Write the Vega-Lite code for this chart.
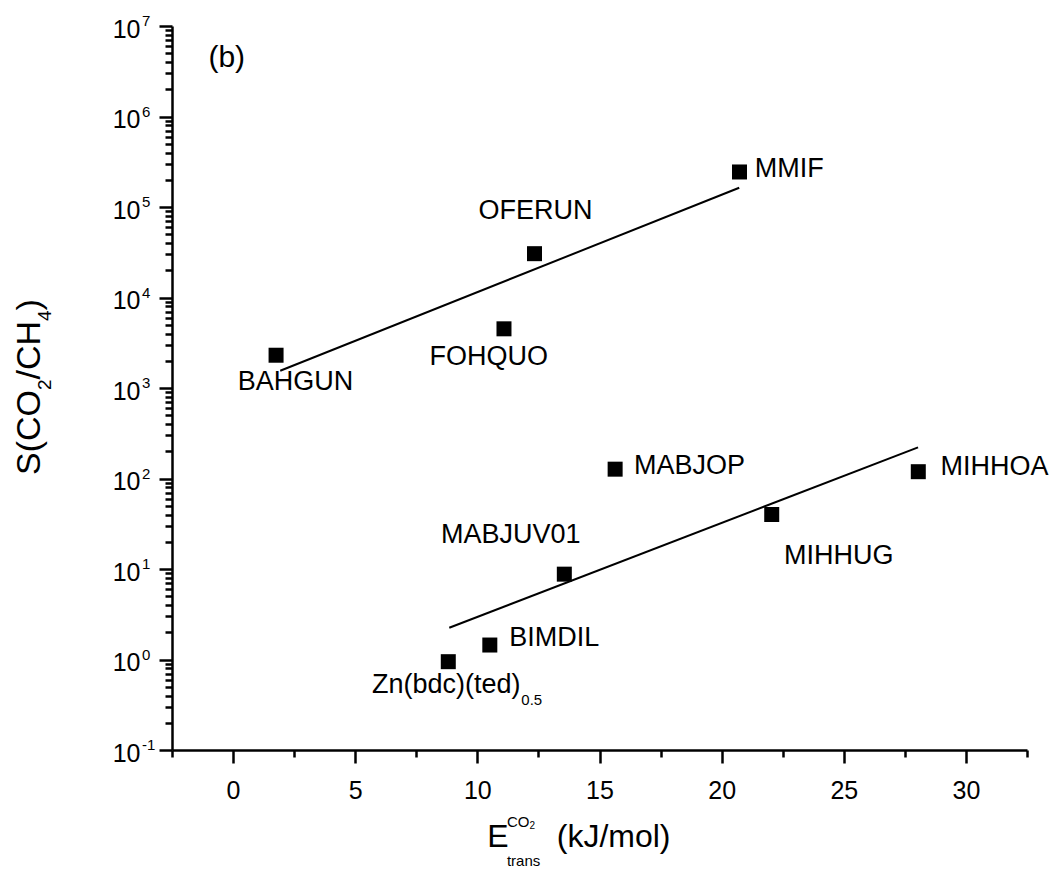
{
  "$schema": "https://vega.github.io/schema/vega-lite/v6.json",
  "width": 855,
  "height": 724,
  "autosize": {"type": "none"},
  "padding": {"left": 172, "top": 26, "right": 26, "bottom": 123},
  "background": "white",
  "config": {"view": {"stroke": null}, "font": "Liberation Sans"},
  "datasets": {
    "fits": [
      {"fit": "upper", "x": 1.93, "y": 1553},
      {"fit": "upper", "x": 20.72, "y": 163300},
      {"fit": "lower", "x": 8.85, "y": 2.24},
      {"fit": "lower", "x": 28.04, "y": 221}
    ],
    "points": [
      {"name": "BAHGUN", "x": 1.76, "y": 2302},
      {"name": "FOHQUO", "x": 11.09, "y": 4508},
      {"name": "OFERUN", "x": 12.34, "y": 30500},
      {"name": "MMIF", "x": 20.73, "y": 243800},
      {"name": "Zn(bdc)(ted)0.5", "x": 8.81, "y": 0.946},
      {"name": "BIMDIL", "x": 10.51, "y": 1.445},
      {"name": "MABJUV01", "x": 13.56, "y": 8.77},
      {"name": "MABJOP", "x": 15.64, "y": 126.8},
      {"name": "MIHHUG", "x": 22.05, "y": 40.0},
      {"name": "MIHHOA", "x": 28.05, "y": 118.9}
    ],
    "labels": [
      {"t": "MMIF", "lx": 21.36, "ly": 216200},
      {"t": "OFERUN", "lx": 10.045, "ly": 73700},
      {"t": "FOHQUO", "lx": 8.04, "ly": 1795},
      {"t": "BAHGUN", "lx": 0.188, "ly": 950},
      {"t": "MABJOP", "lx": 16.41, "ly": 112.1},
      {"t": "MABJUV01", "lx": 8.507, "ly": 19.23},
      {"t": "BIMDIL", "lx": 11.31, "ly": 1.41},
      {"t": "Zn(bdc)(ted)", "lx": 5.685, "ly": 0.423},
      {"t": "MIHHUG", "lx": 22.55, "ly": 11.36},
      {"t": "MIHHOA", "lx": 28.96, "ly": 109.3}
    ],
    "small": [
      {"t": "0.5", "lx": 11.8, "ly": 0.3144},
      {"t": "CO", "lx": 11.21, "ly": 0.01421},
      {"t": "trans", "lx": 11.21, "ly": 0.005224}
    ],
    "tiny": [
      {"t": "2", "lx": 12.13, "ly": 0.0133}
    ],
    "xtitle": [
      {"t": "E", "lx": 10.4, "ly": 0.00854},
      {"t": "(kJ/mol)", "lx": 13.25, "ly": 0.00854}
    ],
    "panel": [
      {"t": "(b)", "lx": -1.01, "ly": 3524000}
    ],
    "ytitle": [
      {"t": "S(CO", "lx": -7.91, "ly": 109.3},
      {"t": "/CH", "lx": -7.91, "ly": 1241},
      {"t": ")", "lx": -7.91, "ly": 7185}
    ],
    "ytitlesub": [
      {"t": "2", "lx": -7.47, "ly": 950.4},
      {"t": "4", "lx": -7.47, "ly": 5500}
    ],
    "exps": [
      {"v": 10000000, "e": "7"},
      {"v": 1000000, "e": "6"},
      {"v": 100000, "e": "5"},
      {"v": 10000, "e": "4"},
      {"v": 1000, "e": "3"},
      {"v": 100, "e": "2"},
      {"v": 10, "e": "1"},
      {"v": 1, "e": "0"},
      {"v": 0.1, "e": "-1"}
    ]
  },
  "layer": [
    {
      "data": {"name": "fits"},
      "mark": {"type": "line", "color": "black", "strokeWidth": 2},
      "encoding": {
        "x": {
          "field": "x", "type": "quantitative",
          "scale": {"domain": [-2.5, 32.5], "nice": false, "zero": false},
          "axis": {"orient": "bottom", "values": [-2.5, 2.5, 7.5, 12.5, 17.5, 22.5, 27.5, 32.5], "labels": false, "domain": false, "grid": false, "tickSize": 7, "tickWidth": 2.5, "tickColor": "black", "title": null}
        },
        "y": {
          "field": "y", "type": "quantitative",
          "scale": {"type": "log", "domain": [0.1, 10000000], "nice": false},
          "axis": {"orient": "left", "values": [0.2, 0.3, 0.4, 0.5, 0.6, 0.7, 0.8, 0.9, 2, 3, 4, 5, 6, 7, 8, 9, 20, 30, 40, 50, 60, 70, 80, 90, 200, 300, 400, 500, 600, 700, 800, 900, 2000, 3000, 4000, 5000, 6000, 7000, 8000, 9000, 20000, 30000, 40000, 50000, 60000, 70000, 80000, 90000, 200000, 300000, 400000, 500000, 600000, 700000, 800000, 900000, 2000000, 3000000, 4000000, 5000000, 6000000, 7000000, 8000000, 9000000], "labels": false, "domain": false, "grid": false, "tickSize": 7, "tickWidth": 2.5, "tickColor": "black", "title": null}
        },
        "detail": {"field": "fit", "type": "nominal"}
      }
    },
    {
      "data": {"name": "points"},
      "mark": {"type": "point", "shape": "square", "filled": true, "color": "black", "size": 225, "opacity": 1, "strokeWidth": 0},
      "encoding": {
        "x": {
          "field": "x", "type": "quantitative",
          "scale": {"domain": [-2.5, 32.5], "nice": false, "zero": false},
          "axis": {"orient": "bottom", "values": [0, 5, 10, 15, 20, 25, 30], "domain": true, "domainColor": "black", "domainWidth": 2.5, "grid": false, "tickSize": 13, "tickWidth": 2.5, "tickColor": "black", "labelFontSize": 25, "labelFont": "Liberation Sans", "labelColor": "black", "labelPadding": 15, "title": null}
        },
        "y": {
          "field": "y", "type": "quantitative",
          "scale": {"type": "log", "domain": [0.1, 10000000], "nice": false},
          "axis": {"orient": "left", "values": [0.1, 1, 10, 100, 1000, 10000, 100000, 1000000, 10000000], "labelExpr": "'10'", "domain": true, "domainColor": "black", "domainWidth": 2.5, "grid": false, "tickSize": 13, "tickWidth": 2.5, "tickColor": "black", "labelFontSize": 25, "labelFont": "Liberation Sans", "labelColor": "black", "labelPadding": 19, "labelOffset": 3, "labelFlush": false, "labelOverlap": false, "title": null}
        }
      }
    },
    {
      "data": {"name": "labels"},
      "mark": {"type": "text", "align": "left", "baseline": "alphabetic", "fontSize": 27, "font": "Liberation Sans", "color": "black"},
      "encoding": {
        "x": {"field": "lx", "type": "quantitative", "scale": {"domain": [-2.5, 32.5], "nice": false, "zero": false}, "axis": null},
        "y": {"field": "ly", "type": "quantitative", "scale": {"type": "log", "domain": [0.1, 10000000], "nice": false}, "axis": null},
        "text": {"field": "t"}
      }
    },
    {
      "data": {"name": "small"},
      "mark": {"type": "text", "align": "left", "baseline": "alphabetic", "fontSize": 15, "font": "Liberation Sans", "color": "black"},
      "encoding": {
        "x": {"field": "lx", "type": "quantitative", "scale": {"domain": [-2.5, 32.5], "nice": false, "zero": false}, "axis": null},
        "y": {"field": "ly", "type": "quantitative", "scale": {"type": "log", "domain": [0.1, 10000000], "nice": false}, "axis": null},
        "text": {"field": "t"}
      }
    },
    {
      "data": {"name": "tiny"},
      "mark": {"type": "text", "align": "left", "baseline": "alphabetic", "fontSize": 10, "font": "Liberation Sans", "color": "black"},
      "encoding": {
        "x": {"field": "lx", "type": "quantitative", "scale": {"domain": [-2.5, 32.5], "nice": false, "zero": false}, "axis": null},
        "y": {"field": "ly", "type": "quantitative", "scale": {"type": "log", "domain": [0.1, 10000000], "nice": false}, "axis": null},
        "text": {"field": "t"}
      }
    },
    {
      "data": {"name": "xtitle"},
      "mark": {"type": "text", "align": "left", "baseline": "alphabetic", "fontSize": 32, "font": "Liberation Sans", "color": "black"},
      "encoding": {
        "x": {"field": "lx", "type": "quantitative", "scale": {"domain": [-2.5, 32.5], "nice": false, "zero": false}, "axis": null},
        "y": {"field": "ly", "type": "quantitative", "scale": {"type": "log", "domain": [0.1, 10000000], "nice": false}, "axis": null},
        "text": {"field": "t"}
      }
    },
    {
      "data": {"name": "panel"},
      "mark": {"type": "text", "align": "left", "baseline": "alphabetic", "fontSize": 30, "font": "Liberation Sans", "color": "black"},
      "encoding": {
        "x": {"field": "lx", "type": "quantitative", "scale": {"domain": [-2.5, 32.5], "nice": false, "zero": false}, "axis": null},
        "y": {"field": "ly", "type": "quantitative", "scale": {"type": "log", "domain": [0.1, 10000000], "nice": false}, "axis": null},
        "text": {"field": "t"}
      }
    },
    {
      "data": {"name": "ytitle"},
      "mark": {"type": "text", "align": "left", "baseline": "alphabetic", "angle": 270, "fontSize": 34, "font": "Liberation Sans", "color": "black"},
      "encoding": {
        "x": {"field": "lx", "type": "quantitative", "scale": {"domain": [-2.5, 32.5], "nice": false, "zero": false}, "axis": null},
        "y": {"field": "ly", "type": "quantitative", "scale": {"type": "log", "domain": [0.1, 10000000], "nice": false}, "axis": null},
        "text": {"field": "t"}
      }
    },
    {
      "data": {"name": "ytitlesub"},
      "mark": {"type": "text", "align": "left", "baseline": "alphabetic", "angle": 270, "fontSize": 19, "font": "Liberation Sans", "color": "black"},
      "encoding": {
        "x": {"field": "lx", "type": "quantitative", "scale": {"domain": [-2.5, 32.5], "nice": false, "zero": false}, "axis": null},
        "y": {"field": "ly", "type": "quantitative", "scale": {"type": "log", "domain": [0.1, 10000000], "nice": false}, "axis": null},
        "text": {"field": "t"}
      }
    },
    {
      "data": {"name": "exps"},
      "mark": {"type": "text", "align": "left", "baseline": "alphabetic", "fontSize": 15, "font": "Liberation Sans", "color": "black", "dx": -30},
      "encoding": {
        "x": {"datum": -2.5, "type": "quantitative", "scale": {"domain": [-2.5, 32.5], "nice": false, "zero": false}, "axis": null},
        "y": {"field": "v", "type": "quantitative", "scale": {"type": "log", "domain": [0.1, 10000000], "nice": false}, "axis": null},
        "text": {"field": "e"}
      }
    }
  ],
  "resolve": {"axis": {"x": "independent", "y": "independent"}}
}
